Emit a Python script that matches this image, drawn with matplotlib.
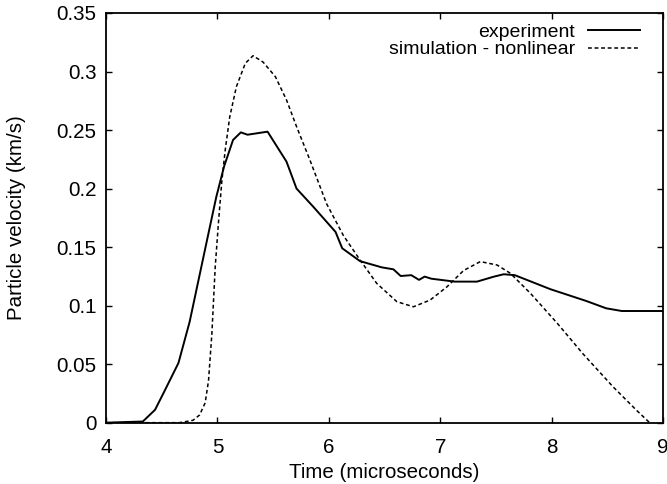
import matplotlib
matplotlib.use("Agg")
import matplotlib.pyplot as plt

# experiment trace (time in microseconds, velocity in km/s)
exp_t = [4.00, 4.33, 4.44, 4.53, 4.65, 4.75, 4.92, 4.99, 5.06, 5.14, 5.21,
         5.27, 5.45, 5.62, 5.71, 5.86, 6.06, 6.12, 6.28, 6.475, 6.58, 6.645,
         6.74, 6.81, 6.86, 6.92, 7.13, 7.33, 7.48, 7.57, 7.67, 7.99, 8.31,
         8.49, 8.63, 9.00]
exp_v = [0.000, 0.001, 0.011, 0.028, 0.051, 0.086, 0.162, 0.193, 0.219,
         0.2415, 0.248, 0.246, 0.2486, 0.223, 0.200, 0.1845, 0.163, 0.149,
         0.138, 0.1327, 0.131, 0.1253, 0.126, 0.122, 0.1248, 0.123, 0.1205,
         0.1205, 0.1247, 0.1268, 0.126, 0.114, 0.104, 0.0977, 0.0954, 0.0954]

# nonlinear simulation
sim_t = [4.00, 4.66, 4.78, 4.84, 4.89, 4.92, 4.95, 4.98, 5.01, 5.04, 5.07,
         5.11, 5.17, 5.25, 5.32, 5.41, 5.52, 5.62, 5.71, 5.83, 5.98, 6.13,
         6.28, 6.43, 6.61, 6.76, 6.91, 7.06, 7.21, 7.36, 7.51, 7.63, 7.81,
         8.05, 8.28, 8.55, 8.76, 8.88]
sim_v = [0.000, 0.000, 0.002, 0.0066, 0.017, 0.036, 0.076, 0.133, 0.172,
         0.207, 0.233, 0.261, 0.287, 0.307, 0.3135, 0.308, 0.2956, 0.2757,
         0.253, 0.2244, 0.187, 0.160, 0.139, 0.119, 0.1034, 0.099, 0.1048,
         0.116, 0.130, 0.1376, 0.1347, 0.1276, 0.1105, 0.085, 0.059, 0.0308,
         0.0108, 0.000]

x_ticks = [4, 5, 6, 7, 8, 9]
y_ticks = [0, 0.05, 0.1, 0.15, 0.2, 0.25, 0.3, 0.35]
y_labels = ["0", "0.05", "0.1", "0.15", "0.2", "0.25", "0.3", "0.35"]

plt.rcParams["font.family"] = ["Liberation Sans", "DejaVu Sans"]
plt.rcParams["font.size"] = 14.8

fig = plt.figure(figsize=(6.67, 4.84), dpi=100)
ax = fig.add_axes([0.159, 0.1267, 0.835, 0.8465])

ax.plot(exp_t, exp_v, color="black", lw=1.4, label="experiment")
ax.plot(sim_t, sim_v, color="black", lw=1.1, dashes=(2.5, 1.8),
        label="simulation - nonlinear")

ax.set_xlim(4, 9)
ax.set_ylim(0, 0.35)
ax.set_xticks(x_ticks)
ax.set_xticklabels([str(t) for t in x_ticks])
ax.set_yticks(y_ticks)
ax.set_yticklabels(y_labels)
ax.tick_params(direction="in", length=4.5, width=1, top=True, right=True,
               labelsize=14.8)
ax.tick_params(axis="x", pad=11)
ax.tick_params(axis="y", pad=7)
for s in ax.spines.values():
    s.set_linewidth(1.3)

ax.set_xlabel("Time (microseconds)", labelpad=4)
ax.set_ylabel("Particle velocity (km/s)", labelpad=22)

ax.legend(loc="upper right", bbox_to_anchor=(0.959, 0.975), frameon=False,
          markerfirst=False, handlelength=2.7, labelspacing=0.0,
          borderpad=0, borderaxespad=0, handletextpad=0.65, fontsize=14)

fig.savefig("out.png", dpi=100)
